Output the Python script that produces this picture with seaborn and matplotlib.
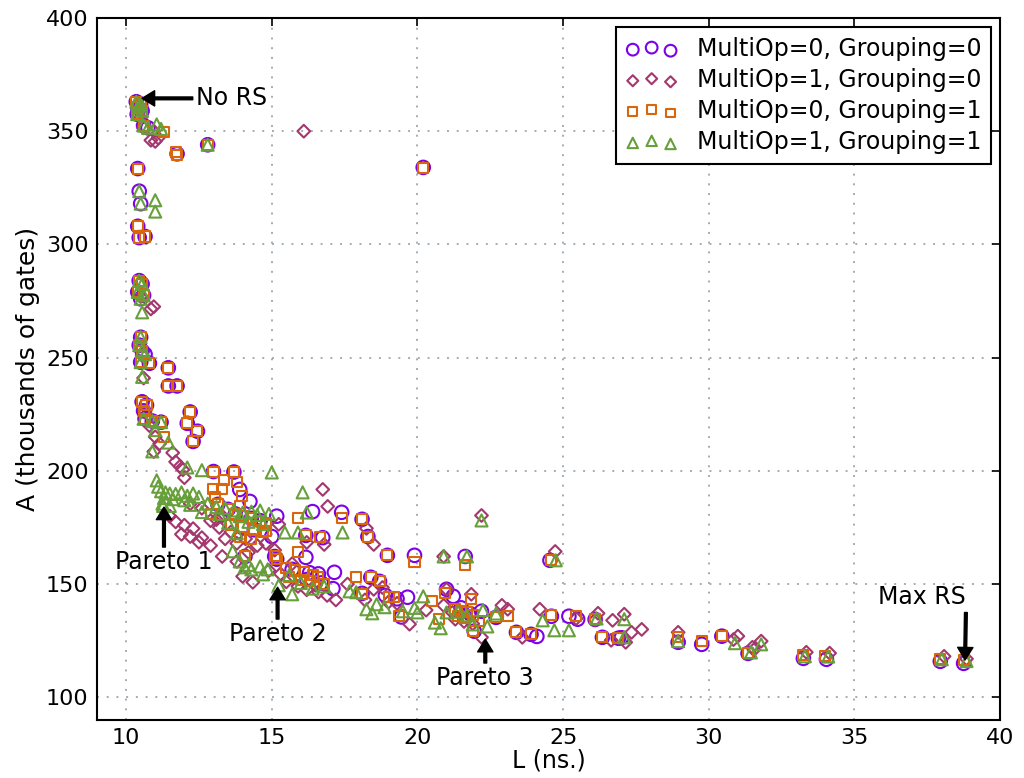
import matplotlib
matplotlib.use("Agg")
import matplotlib.pyplot as plt
import seaborn as sns
import pandas as pd
from matplotlib.legend_handler import HandlerPathCollection

# Design-space exploration: latency L (ns.) vs area A (thousands of gates)
labels = ["MultiOp=0, Grouping=0", "MultiOp=1, Grouping=0",
          "MultiOp=0, Grouping=1", "MultiOp=1, Grouping=1"]

# MultiOp=0, Grouping=0
L_c = [10.35, 10.5, 10.4, 10.55, 10.38, 10.6, 10.75, 10.4, 10.45, 10.5,
       10.4, 10.45, 10.65, 10.45, 10.55, 10.4, 10.6, 10.5, 10.5, 10.45,
       10.55, 10.65, 10.5, 10.8, 10.55, 10.7, 10.6, 10.65, 10.9, 11.2,
       11.45, 11.45, 11.75, 12.2, 12.1, 12.45, 12.3, 12.8, 20.2, 11.75,
       13.0, 13.7, 13.15, 13.9, 14.25, 13.75, 14.6, 14.4, 15.17, 14.08,
       15.1, 15.17, 15.0, 16.4, 17.4, 18.1, 18.3, 16.17, 16.75, 16.17,
       15.7, 16.3, 16.6, 16.2, 17.15, 18.4, 18.1, 18.7, 18.97, 19.9,
       21.64, 24.55, 18.9, 19.3, 19.66, 19.45, 21.0, 21.23, 21.5, 21.8,
       22.2, 21.95, 22.7, 23.4, 23.9, 24.1, 24.6, 25.2, 25.5, 26.1,
       26.35, 26.9, 27.0, 28.95, 29.76, 30.45, 31.35, 33.25, 34.04, 37.95,
       38.75, 13.5, 14.0, 14.3, 16.7, 21.6, 17.1]
A_c = [363, 362, 360.5, 359, 357.5, 352.5, 351.5, 333.5, 323.5, 318,
       308, 303, 303.5, 284, 282.5, 279, 277.5, 276, 259, 255.5,
       253, 251.5, 248, 247.5, 230.5, 229, 226.5, 223, 222, 221.5,
       245.5, 237.5, 237.5, 226, 221, 217.5, 213, 344, 334, 340,
       199.7, 199.5, 185.2, 191.8, 186.5, 181, 178, 174, 180, 162.2,
       162.2, 161, 171, 182, 181.7, 178.6, 171, 171.5, 170.5, 161.8,
       156.5, 155, 154.5, 152, 155.2, 153, 145.9, 151.2, 162.7, 162.7,
       162.2, 160.5, 145, 143.5, 144.2, 135.5, 147.7, 144.6, 139.5, 137,
       138, 129.2, 135.3, 128.7, 127.8, 126.9, 135.8, 135.8, 134.5, 134.4,
       126.5, 126.1, 126.3, 124.3, 123.4, 127, 119.4, 117.2, 116.8, 115.9,
       115, 183, 175, 179, 150.5, 136, 148]

# MultiOp=1, Grouping=0
L_d = [10.5, 10.6, 10.85, 11.0, 11.1, 10.95, 16.1, 10.85, 10.95, 10.5,
       10.55, 10.6, 10.65, 10.8, 11.0, 11.15, 10.95, 11.6, 11.7, 11.85,
       11.95, 12.0, 11.5, 11.7, 12.0, 12.3, 11.9, 12.2, 12.6, 12.5,
       12.9, 13.2, 13.6, 12.9, 13.3, 13.4, 13.8, 13.3, 13.8, 14.0,
       14.35, 14.2, 14.5, 14.1, 14.8, 15.1, 15.24, 16.75, 16.92, 18.25,
       18.5, 16.2, 16.8, 12.2, 12.6, 13.1, 15.5, 15.9, 16.2, 16.6,
       16.9, 17.2, 15.3, 16.5, 18.5, 18.8, 20.9, 22.2, 24.73, 19.0,
       19.3, 19.73, 21.0, 21.85, 20.9, 21.3, 21.6, 21.9, 21.2, 22.2,
       22.9, 23.1, 23.6, 24.2, 25.45, 26.1, 26.2, 26.7, 27.1, 26.65,
       27.15, 27.35, 27.7, 28.95, 31.0, 30.85, 31.5, 31.8, 31.55, 33.35,
       34.15, 38.08, 38.85, 14.9, 15.7, 17.6, 20.3, 18.2]
A_d = [356, 351.5, 346, 345.5, 347, 350, 350, 271.5, 272.5, 277,
       251, 241, 226, 220, 215, 212, 208.5, 208, 204, 202,
       200.5, 197, 180, 177.5, 176, 174.5, 172, 171, 170.5, 168.5,
       167, 175, 173, 178, 180, 170, 168, 162.2, 160, 153.4,
       150.8, 164, 167, 170, 168, 165, 176.4, 191.8, 184.3, 174.6,
       167.5, 168.4, 167.5, 185.5, 183.5, 178.5, 151, 149, 147.5, 146.5,
       145, 143, 154.5, 149.5, 147.7, 148.5, 162.2, 180.3, 164.4, 142,
       141.5, 132.3, 147.7, 145.5, 140.6, 134.5, 133.5, 132.5, 137.5, 126.5,
       140.6, 138.9, 126.5, 138.9, 134.8, 134.2, 137.1, 134, 136.7, 125.2,
       124.3, 128.7, 130, 128.7, 127, 125.5, 122.1, 124.8, 121, 119.9,
       119.5, 118.1, 117, 156, 159, 150, 138.5, 143]

# MultiOp=0, Grouping=1
L_s = [10.35, 10.5, 10.4, 10.55, 10.38, 10.6, 10.4, 10.4, 10.45, 10.65,
       10.45, 10.55, 10.4, 10.6, 10.5, 10.45, 10.55, 10.5, 10.8, 10.55,
       10.7, 10.6, 10.65, 10.9, 11.2, 11.3, 11.3, 11.7, 11.75, 12.8,
       20.2, 11.45, 11.45, 11.75, 12.2, 12.1, 12.45, 12.3, 13.0, 13.7,
       13.35, 13.8, 12.98, 13.3, 13.05, 13.15, 13.97, 13.9, 13.5, 13.75,
       14.0, 14.3, 14.6, 14.8, 13.6, 14.0, 14.4, 14.7, 13.9, 14.3,
       14.08, 15.1, 15.17, 14.8, 12.9, 15.9, 17.4, 18.1, 18.3, 16.17,
       16.64, 15.9, 15.5, 15.8, 16.1, 16.4, 16.6, 15.6, 16.0, 16.3,
       16.8, 17.9, 18.4, 18.1, 18.7, 18.97, 19.9, 21.64, 24.6, 19.04,
       19.2, 20.5, 19.38, 20.96, 21.85, 20.75, 21.3, 21.5, 21.7, 21.9,
       21.4, 21.6, 22.1, 21.9, 23.1, 22.7, 23.4, 23.9, 24.6, 25.45,
       26.1, 26.35, 26.9, 28.95, 29.76, 30.45, 31.35, 33.25, 34.0, 37.95,
       38.75]
A_s = [363, 362, 360.5, 359, 357.5, 352.5, 333.5, 308, 303, 303.5,
       284, 282.5, 279, 277.5, 259, 255.5, 253, 248, 247.5, 230.5,
       229, 226.5, 223, 222, 221.5, 215, 349.5, 341, 339.5, 344,
       333.8, 245.5, 237.5, 237.5, 226, 221, 217.5, 213, 199.7, 199.5,
       196, 195, 191.8, 191.8, 188.3, 185.2, 188.7, 184.3, 183, 181,
       180, 179, 178, 177, 176, 175, 174, 173, 171, 170,
       162.2, 162.2, 161, 173.3, 181, 179, 179.4, 178.6, 171, 171.5,
       171, 164, 157, 156, 155.5, 154, 153, 153, 152, 151.5,
       150, 153, 153, 145.5, 151.2, 162.7, 159.6, 158.3, 160.5, 144.2,
       144.2, 142.4, 135.8, 146, 143.3, 134.4, 139, 138, 137.5, 136.5,
       136, 135, 133.5, 129.2, 135.8, 135.3, 128.7, 127.8, 136.3, 135.8,
       134.4, 126.5, 126.1, 126.5, 124.8, 127, 119.4, 118.5, 118.2, 117,
       116.5]

# MultiOp=1, Grouping=1
L_t = [10.35, 10.5, 10.4, 10.55, 10.38, 10.6, 10.75, 11.05, 11.2, 12.8,
       10.45, 10.5, 11.0, 11.0, 10.45, 10.55, 10.4, 10.6, 10.5, 10.55,
       10.5, 10.45, 10.55, 10.65, 10.5, 10.55, 10.6, 10.9, 11.2, 11.0,
       11.45, 10.9, 12.1, 12.6, 15.0, 11.05, 11.1, 11.2, 11.35, 11.5,
       11.7, 11.9, 12.1, 12.3, 11.3, 11.6, 12.0, 12.5, 11.25, 11.5,
       12.2, 12.8, 13.1, 13.4, 13.7, 14.0, 14.3, 14.6, 13.2, 13.9,
       14.5, 14.9, 11.27, 12.6, 13.5, 14.2, 14.7, 13.8, 15.45, 15.9,
       13.66, 14.07, 14.3, 14.6, 14.7, 14.86, 14.2, 13.9, 16.06, 16.2,
       17.43, 15.6, 16.0, 16.4, 15.7, 16.8, 15.24, 17.67, 17.9, 20.9,
       21.7, 22.2, 24.75, 20.2, 18.25, 18.45, 18.87, 18.6, 19.5, 19.9,
       20.0, 21.0, 20.6, 20.8, 21.4, 21.7, 22.25, 21.9, 22.4, 22.7,
       24.3, 24.7, 25.2, 26.15, 27.1, 27.1, 28.95, 30.9, 31.45, 31.8,
       33.3, 34.1, 38.0, 38.85]
A_t = [363, 362, 360.5, 359, 357.5, 352.5, 351.5, 353, 351, 344,
       323.5, 318, 319.5, 314.5, 284, 282.5, 279, 277.5, 276, 270,
       259, 255.5, 253, 251.5, 248, 241.5, 223, 222, 221.5, 218,
       212.5, 208.6, 201.5, 200.3, 199.3, 195.8, 193, 191, 190.5, 190,
       189.8, 190.5, 189, 190, 188, 187.5, 187, 188.5, 185.5, 184.5,
       185, 185.5, 184, 183.5, 182.5, 181.5, 182, 182.5, 181, 180,
       180.5, 181, 184.5, 181.8, 177, 177.5, 176.5, 172.5, 172.8, 172.8,
       164.5, 157.4, 156.5, 157.8, 154.3, 156.5, 158.5, 160, 190.5, 181.6,
       172.8, 154, 150.5, 148, 145.5, 149, 149.5, 146.8, 146.4, 162.2,
       162.2, 178.1, 160.5, 144.6, 138.9, 137.1, 139.8, 141.1, 138, 139.5,
       137.5, 137.5, 133, 130.5, 137.8, 136.2, 138.5, 132.2, 131.3, 137,
       134, 129.6, 129.6, 134.8, 134.5, 126.5, 124.8, 123.9, 119.8, 123.4,
       118.1, 118, 116.8, 116]

series_L = [L_c, L_d, L_s, L_t]
series_A = [A_c, A_d, A_s, A_t]
colors = ["#7d00e8", "#a3376e", "#d9660a", "#67a03a"]
markers = ["o", "D", "s", "^"]
sizes = [95, 42, 52, 75]

df = pd.concat(
    [pd.DataFrame({"L": Ls, "A": As, "config": lab})
     for Ls, As, lab in zip(series_L, series_A, labels)],
    ignore_index=True)

sns.set_style("white")
plt.rcParams["font.family"] = ["DejaVu Sans"]
plt.rcParams["text.color"] = "black"
plt.rcParams["axes.labelcolor"] = "black"

fig = plt.figure(figsize=(10.24, 7.78), dpi=100)
ax = fig.add_axes([0.0947, 0.0746, 0.8819, 0.9023])

handles = []
for lab, col, mk, sz in zip(labels, colors, markers, sizes):
    sub = df[df["config"] == lab]
    sns.scatterplot(data=sub, x="L", y="A", ax=ax, marker=mk, s=sz,
                    facecolors="none", edgecolor=col, linewidth=1.5,
                    label=lab, zorder=3)
    handles.append(ax.collections[-1])

ax.set_xlim(9, 40)
ax.set_ylim(90, 400)
ax.set_xticks([10, 15, 20, 25, 30, 35, 40])
ax.set_yticks([100, 150, 200, 250, 300, 350, 400])
ax.grid(True, color="#a3acb6", linestyle=(0, (1, 4)), linewidth=1.4)
ax.set_axisbelow(True)
ax.tick_params(direction="in", length=6, width=1.2, top=True, right=True,
               labelsize=16, pad=6, colors="black")
for sp in ax.spines.values():
    sp.set_color("black")
    sp.set_linewidth(1.5)

ax.set_xlabel("L (ns.)", fontsize=17, labelpad=0, color="black")
ax.set_ylabel("A (thousands of gates)", fontsize=18, labelpad=4,
              color="black")

handler_map = {h: HandlerPathCollection(sizes=[sz * 0.75] * 3)
               for h, sz in zip(handles, sizes)}
leg = ax.legend(handles=handles, labels=labels, loc="upper right",
                scatterpoints=3, fontsize=17, frameon=True, fancybox=False,
                framealpha=1, edgecolor="black", handlelength=2.2,
                handletextpad=0.8, labelspacing=0.3, borderaxespad=0.4,
                borderpad=0.4, handler_map=handler_map)
leg.get_frame().set_linewidth(1.5)
for t in leg.get_texts():
    t.set_color("black")

arrow = dict(facecolor="black", edgecolor="black", width=2, headwidth=11,
             headlength=9, shrink=0)
ann_fs = 17
ax.annotate("No RS", xy=(10.55, 364.5), xytext=(12.4, 364.5),
            ha="left", va="center", fontsize=ann_fs, arrowprops=arrow)
ax.annotate("Pareto 1", xy=(11.3, 184), xytext=(11.3, 159.6),
            ha="center", va="center", fontsize=ann_fs, arrowprops=arrow)
ax.annotate("Pareto 2", xy=(15.2, 148.6), xytext=(15.2, 127.8),
            ha="center", va="center", fontsize=ann_fs, arrowprops=arrow)
ax.annotate("Pareto 3", xy=(22.33, 125.6), xytext=(22.33, 108.4),
            ha="center", va="center", fontsize=ann_fs, arrowprops=arrow)
ax.annotate("Max RS", xy=(38.8, 116.5), xytext=(38.83, 144.2),
            ha="right", va="center", fontsize=ann_fs, arrowprops=arrow)

fig.savefig("out.png", dpi=100)
